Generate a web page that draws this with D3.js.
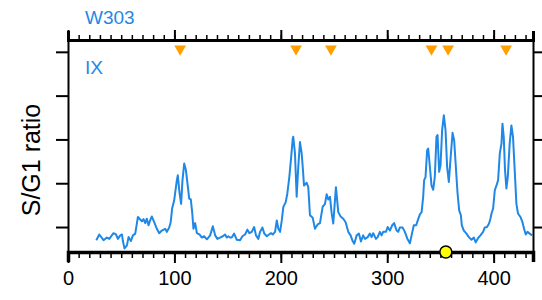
<!DOCTYPE html>
<html>
<head>
<meta charset="utf-8">
<script src="https://cdn.jsdelivr.net/npm/d3@7"></script>
<style>
	body{margin:0;background:#fff;}
	svg{display:block;font-family:"Liberation Sans",Arial,Helvetica,sans-serif;}
	.axis path,.axis line{stroke:#000;}
	.axis text{font-size:20px;fill:#000;}
</style>
</head>
<body>
<script>
// chromosome position (kb) and S/G1 ratio
const positions = [26.6,29.4,33.4,36.6,38.8,40.6,42.8,45.1,46.9,49.1,50.7,51.6,53.1,55.4,56.9,59.1,61.0,63.2,65.7,67.2,
	69.5,71.0,72.6,74.1,75.7,77.2,78.8,81.0,83.5,85.7,88.2,91.3,92.9,95.1,96.5,97.9,99.8,102.3,103.2,104.7,
	106.3,107.6,109.2,110.8,112.3,113.9,115.4,116.7,117.9,119.5,121.1,123.5,125.8,127.9,130.5,133.6,136.1,138.3,140.4,142.9,
	145.5,147.6,149.2,150.7,152.3,153.9,156.1,158.6,161.7,163.9,166.4,168.6,170.5,172.7,174.9,176.7,178.9,180.5,182.7,184.5,
	186.8,188.9,190.8,192.4,194.6,196.2,197.7,199.3,200.9,202.4,204.6,206.1,208.0,209.6,211.2,211.7,213.3,214.9,216.4,218.0,
	219.6,220.6,221.8,224.3,225.8,227.4,230.0,232.1,234.6,236.8,239.3,241.5,243.1,244.6,246.2,247.8,249.3,251.8,254.0,256.2,
	258.7,260.9,263.4,265.6,267.5,269.0,271.3,273.4,275.3,277.4,279.1,281.6,283.7,285.3,286.8,289.4,291.0,293.1,294.7,296.2,
	298.8,300.4,302.5,304.7,306.5,308.8,310.3,311.9,314.4,316.6,318.8,321.3,322.9,325.0,327.2,329.1,330.7,332.3,333.8,334.7,
	336.0,337.5,338.5,340.1,341.6,343.2,344.7,346.3,347.3,348.8,350.1,351.6,353.2,354.8,356.3,357.9,359.5,361.4,362.9,364.5,
	366.0,367.6,369.2,370.1,372.0,374.5,376.7,379.2,381.4,383.2,385.4,387.6,390.1,391.7,393.8,395.7,397.0,398.0,399.5,401.1,
	402.7,404.2,405.8,407.4,408.3,409.5,410.7,412.0,413.3,415.1,416.7,418.2,419.8,421.4,422.9,425.2,427.1,428.6,430.2,431.8,
	433.9,436.1];
const ratios = [0.970,0.983,0.970,0.976,0.973,0.979,0.986,0.983,0.973,0.981,0.983,0.968,0.951,0.958,0.977,0.968,0.981,0.985,1.023,1.019,
	1.013,1.018,1.009,1.019,1.004,1.015,1.024,1.011,0.996,0.986,0.992,0.996,0.989,0.999,1.011,1.043,1.061,1.107,1.118,1.080,
	1.053,1.107,1.145,1.130,1.099,1.065,1.063,1.034,0.996,1.009,0.986,0.983,0.976,0.979,0.972,0.981,1.002,0.981,0.973,0.976,
	0.979,0.983,0.976,0.979,0.976,0.976,0.985,0.971,0.970,0.979,0.983,0.994,0.986,0.989,1.000,0.981,0.973,0.989,0.999,0.985,
	0.979,0.983,0.986,0.983,0.989,1.015,0.996,0.989,1.015,1.046,1.057,1.076,1.114,1.156,1.202,1.206,1.168,1.069,1.137,1.194,
	1.168,1.137,1.095,1.101,1.091,1.027,1.021,0.996,1.006,1.009,1.046,1.053,1.075,1.063,1.069,1.031,1.008,1.091,1.034,1.024,
	1.019,1.011,0.989,0.981,0.968,0.962,0.981,0.985,0.967,0.981,0.973,0.977,0.985,0.977,0.986,0.973,0.977,0.989,0.981,0.989,
	0.989,1.000,0.992,1.004,1.009,0.992,0.989,0.999,0.999,0.989,0.974,0.963,0.981,1.004,1.004,1.018,1.029,1.034,1.069,1.107,
	1.114,1.175,1.179,1.137,1.095,1.085,1.114,1.206,1.210,1.126,1.141,1.221,1.255,1.221,1.137,1.103,1.156,1.215,1.198,1.137,
	1.080,1.038,1.027,1.004,0.992,0.985,0.977,0.971,0.976,0.965,0.975,0.981,0.989,0.999,1.000,1.008,1.019,1.031,1.042,1.084,
	1.095,1.107,1.168,1.191,1.236,1.206,1.130,1.088,1.114,1.191,1.232,1.206,1.130,1.053,1.031,1.023,1.011,0.996,0.983,0.989,
	0.985,0.981];
// replication origins (kb) and centromere (kb)
const origins = [105.4,214.3,247.1,341.6,357.2,411.7];
const centromere = [355.1];
const yTicks = [1.0,1.1,1.2,1.3,1.4];
const xMajor = [0,100,200,300,400];
const xMinor = d3.range(0,437,10);
const chrLength = 437;

const blue = "#1f88e6";
const width = 542, height = 300;
const margin = {top:40,right:9,bottom:48,left:68};
const innerWidth = width - margin.left - margin.right;
const innerHeight = height - margin.top - margin.bottom;

const svg = d3.select("body").append("svg")
	.attr("width",width)
	.attr("height",height);

const x = d3.scaleLinear().domain([0,chrLength]).range([0,innerWidth]);
const y = d3.scaleLinear().domain([0.943,1.427]).range([innerHeight,0]);

const g = svg.append("g")
	.attr("transform","translate("+margin.left+","+margin.top+")");

//line
const data = positions.map((p,i)=>[p,ratios[i]]);
g.append("path")
	.datum(data)
	.attr("fill","none")
	.attr("stroke",blue)
	.attr("stroke-width",2)
	.attr("stroke-linejoin","round")
	.attr("d",d3.line().x(d=>x(d[0])).y(d=>y(d[1])));

//left and right axes, no labels
g.append("g").attr("class","axis")
	.call(d3.axisLeft(y).tickValues(yTicks).tickSize(12).tickSizeOuter(0))
	.call(a=>a.selectAll("text").remove())
	.call(a=>a.selectAll("path,line").attr("stroke-width",2));
g.append("g").attr("class","axis")
	.attr("transform","translate("+innerWidth+",0)")
	.call(d3.axisRight(y).tickValues(yTicks).tickSize(12).tickSizeOuter(0))
	.call(a=>a.selectAll("text").remove())
	.call(a=>a.selectAll("path,line").attr("stroke-width",2));

//top axis
g.append("g").attr("class","axis")
	.call(d3.axisTop(x).tickValues(xMinor).tickSize(5).tickSizeOuter(9))
	.call(a=>a.selectAll("text").remove())
	.call(a=>a.selectAll("line").attr("stroke-width",1.5))
	.call(a=>a.select("path").attr("stroke-width",3));
g.append("g").attr("class","axis")
	.call(d3.axisTop(x).tickValues(xMajor).tickSize(10).tickSizeOuter(0))
	.call(a=>a.selectAll("text").remove())
	.call(a=>a.select("path").remove())
	.call(a=>a.selectAll("line").attr("stroke-width",2));

//bottom axis
g.append("g").attr("class","axis")
	.attr("transform","translate(0,"+innerHeight+")")
	.call(d3.axisBottom(x).tickValues(xMinor).tickSize(6).tickSizeOuter(10))
	.call(a=>a.selectAll("text").remove())
	.call(a=>a.selectAll("line").attr("stroke-width",1.5))
	.call(a=>a.select("path").attr("stroke-width",3.5));
g.append("g").attr("class","axis")
	.attr("transform","translate(0,"+innerHeight+")")
	.call(d3.axisBottom(x).tickValues(xMajor).tickSize(11).tickSizeOuter(0).tickPadding(8))
	.call(a=>a.select("path").remove())
	.call(a=>a.selectAll("line").attr("stroke-width",2));

//origins
g.selectAll(".ori")
	.data(origins)
	.enter().append("path")
		.attr("class","ori")
		.attr("d",d3.symbol(d3.symbolTriangle,60))
		.attr("transform",d=>"translate("+x(d)+",9) rotate(180)")
		.attr("fill","#ffa000");

//centromere
g.selectAll(".cen")
	.data(centromere)
	.enter().append("circle")
		.attr("class","cen")
		.attr("cx",d=>x(d))
		.attr("cy",innerHeight)
		.attr("r",6)
		.attr("fill","#ffff00")
		.attr("stroke","#000")
		.attr("stroke-width",1.5);

//labels
svg.append("text")
	.attr("x",85).attr("y",24)
	.attr("font-size",19)
	.attr("fill",blue)
	.text("W303");
svg.append("text")
	.attr("x",85).attr("y",74)
	.attr("font-size",19)
	.attr("fill",blue)
	.text("IX");
svg.append("text")
	.attr("transform","translate(40,160) rotate(-90)")
	.attr("text-anchor","middle")
	.attr("font-size",25)
	.text("S/G1 ratio");
</script>
</body>
</html>
